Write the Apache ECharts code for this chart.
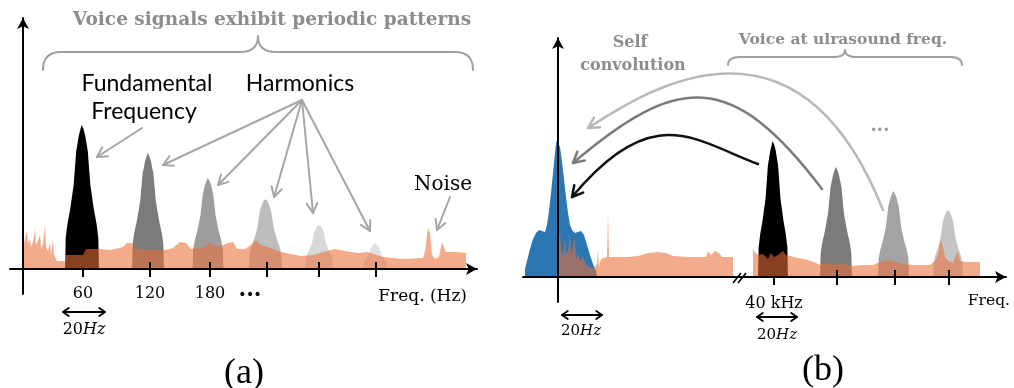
<!DOCTYPE html>
<html>
<head>
<meta charset="utf-8">
<script src="https://cdn.jsdelivr.net/npm/echarts@6/dist/echarts.min.js"></script>
<style>
html,body{margin:0;padding:0;background:#ffffff;}
#chart{width:1014px;height:388px;}
</style>
</head>
<body>
<div id="chart"></div>
<script>
// ================= DATA =================
// Outline of a spectral peak (read from the fundamental): [offset in half-widths, fraction of peak height]
const peakProfile = [[-1,0],[-0.99,0.03],[-0.96,0.215],[-0.86,0.31],[-0.69,0.42],[-0.49,0.585],[-0.34,0.82],[-0.18,0.93],[-0.08,0.975],[-0.03,1],
                     [0.03,1],[0.08,0.975],[0.18,0.93],[0.34,0.82],[0.49,0.585],[0.69,0.42],[0.86,0.31],[0.96,0.215],[0.99,0.03],[1,0]];

// Panel (a): voice spectrum  (x = sketch frequency position, y = amplitude)
const peakCentersA    = [59, 125, 185, 242.5, 296, 352];
const peakHeightsA    = [144, 116, 91, 71, 45, 26];
const peakHalfWidthsA = [17, 16, 15.5, 16.5, 14, 12];
const noiseA = [[1,0],[1,26],[3,28],[4,38],[5,26],[7,30],[8,22],[10,27],[12,40],[13,24],[15,22],[17,34],[18,20],[20,25],[22,44],[23,22],[25,18],[27,26],[28,14],[30,30],[31,14],[33,12],[34,8],[42,8],[42,14],[60,14],[63,20],[76,20],[88,19],[100,22],[104,26],[109,26],[112,20],[128,19],[142,19],[150,21],[157,27],[163,26],[168,20],[182,22],[186,26],[190,24],[196,22],[205,26],[210,27],[214,20],[222,20],[228,24],[233,29],[238,24],[245,22],[258,17],[268,15],[278,13],[290,14],[300,17],[312,20],[322,18],[335,16],[345,17],[360,12],[380,10],[400,11],[402,18],[405,41],[407,36],[409,14],[412,10],[416,12],[419,27],[421,22],[423,17],[432,17],[443,16],[443,0]];
const tickValuesA   = [60, 127, 187, 244, 296, 353];
const tickLabelPosA = [60, 127, 187, 227];
const tickLabelsA   = ['60', '120', '180', '\u00b7\u00b7\u00b7'];

// Panel (b): voice shifted to ultrasound + self convolution
const peakCentersB    = [215, 278, 335.5, 390];
const peakHeightsB    = [136, 110, 86, 68];
const peakHalfWidthsB = [15, 16, 15.5, 15];
const selfConvB = [[-33,0],[-33,8],[-31,16],[-28,28],[-25,38],[-22,44],[-19,47],[-16,46],[-13,45],[-11,52],[-9,66],[-7,84],[-5,104],[-3,124],[-2,134],[-1,137],[1,136],[2,130],[4,115],[6,98],[8,80],[10,64],[12,52],[14,47],[17,44],[20,45],[23,46],[26,42],[29,32],[32,22],[35,13],[38,6],[39,0]];
const noiseB = [[0,0],[0,30],[2,46],[3,28],[5,20],[7,38],[8,22],[10,26],[12,44],[13,22],[15,30],[17,40],[18,18],[20,24],[22,16],[25,20],[28,12],[32,10],[36,8],[39,14],[40,28],[41,10],[43,18],[44,20],[49,20],[50,64],[51,20],[55,20],[70,20],[80,21],[90,24],[100,25],[108,24],[115,21],[130,20],[148,20],[150,26],[153,22],[157,26],[161,24],[164,20],[175,20],[175,0]];
const noiseB2 = [[195,0],[195,28],[197,25],[200,22],[205,23],[210,18],[213,24],[216,20],[220,22],[225,26],[228,22],[232,21],[240,19],[250,17],[258,14],[262,12],[270,14],[278,12],[285,13],[294,11],[305,12],[315,12],[322,15],[330,17],[338,15],[345,13],[355,12],[372,12],[377,16],[380,22],[383,38],[385,30],[387,20],[390,16],[395,14],[398,22],[400,25],[402,16],[408,15],[422,15],[422,0]];
const tickValuesB   = [216, 279, 337, 391];
const tickLabelPosB = [216];
const tickLabelsB   = ['40 kHz'];

// ================= STYLES =================
const peakColorsA = ['#000000','#7b7b7b','#9d9d9d','#bdbdbd','#d8d8d8','#e0e0e0'];
const peakColorsB = ['#000000','#7b7b7b','#a3a3a3','#c4c4c4'];
const noiseColor = 'rgba(236,110,55,0.58)';
const blueColor = '#2a77b4';
const SERIF = 'DejaVu Serif';
const GRAYTXT = '#8c8c8c';

// ================= ANNOTATION LAYOUT (in each panel's data units) =================
const annotA = {
  braces: [{x1:20, x2:450, xTip:235, yEnd:199, yLine:217, yTip:233, r:18, color:'#a0a0a0', width:2}],
  texts: [
    {text:'Voice signals exhibit periodic patterns', at:[249,249], family:SERIF, size:18.5, weight:'bold', color:GRAYTXT},
    {text:'Fundamental', at:[124,185], family:'Lato', size:23, color:'#000'},
    {text:'Frequency', at:[121,157], family:'Lato', size:23, color:'#000'},
    {text:'Harmonics', at:[277,185], family:'Lato', size:23, color:'#000'},
    {text:'Noise', at:[420,84], family:SERIF, size:20, color:'#000'},
    {rich:true, at:[61,-61], size:16},
    {text:'(a)', at:[221,-105], family:'Liberation Serif', size:36, color:'#000'}
  ],
  arrows: [
    {from:[119,141], to:[74,112]},
    {from:[279,169], to:[140,104]},
    {from:[279,169], to:[195,84]},
    {from:[279,169], to:[251,72]},
    {from:[279,169], to:[290,56]},
    {from:[279,169], to:[347,38]},
    {from:[427,72], to:[414,39]}
  ],
  arrowColor:'#a6a6a6',
  doubles: [{from:[40,-43], to:[82,-43]}],
  innerTicks: tickValuesA.slice(1),
  curves: [], slashes: []
};
const annotB = {
  braces: [{x1:170, x2:404, xTip:287, yEnd:212, yLine:220, yTip:227, r:12, color:'#a0a0a0', width:2}],
  texts: [
    {text:'Self', at:[72,234], family:SERIF, size:16, weight:'bold', color:GRAYTXT},
    {text:'convolution', at:[75,211], family:SERIF, size:16, weight:'bold', color:GRAYTXT},
    {text:'Voice at ulrasound freq.', at:[285,237], family:SERIF, size:15.5, weight:'bold', color:GRAYTXT},
    {text:'\u00b7\u00b7\u00b7', at:[322,146], family:SERIF, size:18, weight:'bold', color:'#999'},
    {rich:true, at:[23,-54], size:15},
    {rich:true, at:[219,-58], size:15},
    {text:'(b)', at:[265,-94], family:'Liberation Serif', size:36, color:'#000'}
  ],
  arrows: [], arrowColor:'#a6a6a6',
  doubles: [{from:[4,-38], to:[44,-38]}, {from:[199,-40], to:[239,-40]}],
  innerTicks: tickValuesB.slice(1),
  curves: [
    {p:[[325,67],[236,291],[78,179],[30,149]], color:'#b8b8b8'},
    {p:[[264,88],[174,207],[120,203.5],[15,114]], color:'#7a7a7a'},
    {p:[[200,113],[138,136],[95,178],[14,80]], color:'#111111'}
  ],
  slashes: [[[175,-6],[183,4]], [[180,-6],[188,4]]]
};

// ================= HELPERS =================
function buildPeak(c, h, hw) { return peakProfile.map(([u, v]) => [c + u * hw, v * h]); }

function headPath(tip, from, len, ang) {
  const dx = tip[0] - from[0], dy = tip[1] - from[1];
  const d = Math.hypot(dx, dy) || 1;
  const bx = -dx / d, by = -dy / d;
  const c = Math.cos(ang), s = Math.sin(ang);
  const p1 = [tip[0] + len * (bx * c - by * s), tip[1] + len * (bx * s + by * c)];
  const p2 = [tip[0] + len * (bx * c + by * s), tip[1] + len * (-bx * s + by * c)];
  return 'M' + p1[0] + ',' + p1[1] + ' L' + tip[0] + ',' + tip[1] + ' L' + p2[0] + ',' + p2[1];
}

function makeRender(spec) {
  return function (params, api) {
    const P = p => api.coord(p);
    const ch = [];
    const stroke = (d, color, w) => ch.push({type:'path', shape:{pathData:d}, style:{stroke:color, lineWidth:w, fill:'none', lineCap:'round', lineJoin:'round'}});
    spec.braces.forEach(b => {
      const L = P([b.x1, b.yEnd]), R = P([b.x2, b.yEnd]), T = P([b.xTip, b.yTip]);
      const yl = P([b.x1, b.yLine])[1], r = b.r;
      const d = 'M' + L[0] + ',' + L[1] + ' Q' + L[0] + ',' + yl + ' ' + (L[0] + r) + ',' + yl +
        ' L' + (T[0] - r) + ',' + yl + ' Q' + T[0] + ',' + yl + ' ' + T[0] + ',' + T[1] +
        ' Q' + T[0] + ',' + yl + ' ' + (T[0] + r) + ',' + yl +
        ' L' + (R[0] - r) + ',' + yl + ' Q' + R[0] + ',' + yl + ' ' + R[0] + ',' + R[1];
      stroke(d, b.color, b.width);
    });
    spec.arrows.forEach(a => {
      const A = P(a.from), B = P(a.to);
      stroke('M' + A[0] + ',' + A[1] + ' L' + B[0] + ',' + B[1], spec.arrowColor, 2);
      stroke(headPath(B, A, 11, 0.5), spec.arrowColor, 2);
    });
    spec.curves.forEach(cv => {
      const [p0, c1, c2, p3] = cv.p.map(P);
      stroke('M' + p0[0] + ',' + p0[1] + ' C' + c1[0] + ',' + c1[1] + ' ' + c2[0] + ',' + c2[1] + ' ' + p3[0] + ',' + p3[1], cv.color, 2.5);
      stroke(headPath(p3, c2, 12, 0.5), cv.color, 2.5);
    });
    spec.doubles.forEach(a => {
      const A = P(a.from), B = P(a.to);
      stroke('M' + A[0] + ',' + A[1] + ' L' + B[0] + ',' + B[1], '#000', 1.8);
      stroke(headPath(B, A, 7, 0.6), '#000', 1.8);
      stroke(headPath(A, B, 7, 0.6), '#000', 1.8);
    });
    spec.innerTicks.forEach(t => {
      const A = P([t, 0]), B = P([t, 7]);
      ch.push({type:'line', shape:{x1:A[0], y1:A[1], x2:B[0], y2:B[1]}, style:{stroke:'#000', lineWidth:2}});
    });
    spec.slashes.forEach(s => {
      const A = P(s[0]), B = P(s[1]);
      ch.push({type:'line', shape:{x1:A[0], y1:A[1], x2:B[0], y2:B[1]}, style:{stroke:'#000', lineWidth:1.6}});
    });
    spec.texts.forEach(t => {
      const A = P(t.at);
      if (t.rich) {
        ch.push({type:'text', x:A[0], y:A[1], style:{
          text:'{n|20}{i|Hz}', align:'center', verticalAlign:'middle',
          rich:{n:{fontFamily:SERIF, fontSize:t.size, fill:'#000'},
                i:{fontFamily:SERIF, fontSize:t.size, fontStyle:'italic', fill:'#000'}}
        }});
      } else {
        ch.push({type:'text', x:A[0], y:A[1], style:{text:t.text, fontFamily:t.family, fontSize:t.size,
          fontWeight:t.weight || 'normal', fill:t.color, align:'center', verticalAlign:'middle'}});
      }
    });
    return {type:'group', children:ch};
  };
}

function area(name, xi, data, color, z) {
  return {type:'line', name, xAxisIndex:xi, yAxisIndex:xi, data, symbol:'none', showSymbol:false,
    lineStyle:{width:0}, areaStyle:{color, opacity:1}, z, silent:true, animation:false};
}

// ================= OPTION =================
const series = [];
peakCentersA.forEach((c, i) => series.push(area('a-peak' + i, 0, buildPeak(c, peakHeightsA[i], peakHalfWidthsA[i]), peakColorsA[i], 2)));
series.push(area('a-noise', 0, noiseA, noiseColor, 3));
series.push(area('b-self', 1, selfConvB, blueColor, 2));
peakCentersB.forEach((c, i) => series.push(area('b-peak' + i, 1, buildPeak(c, peakHeightsB[i], peakHalfWidthsB[i]), peakColorsB[i], 2)));
series.push(area('b-noise', 1, noiseB, noiseColor, 3));
series.push(area('b-noise2', 1, noiseB2, noiseColor, 3));
series.push({type:'custom', xAxisIndex:0, yAxisIndex:0, data:[[0,0]], renderItem:makeRender(annotA), z:5, silent:true, animation:false, clip:false});
series.push({type:'custom', xAxisIndex:1, yAxisIndex:1, data:[[0,0]], renderItem:makeRender(annotB), z:5, silent:true, animation:false, clip:false});

const axisLineStyle = {color:'#000', width:2};
function xAxisCfg(gi, min, max, ticks, labelPos, labels, name, nameSize, nameGap, namePad, labelMargin, labelSize) {
  return {gridIndex:gi, type:'value', min, max, z:10,
    axisLine:{show:true, onZero:true, symbol:['none','arrow'], symbolSize:[9,11], lineStyle:axisLineStyle},
    axisTick:{show:true, customValues:ticks, length:8, lineStyle:{color:'#000', width:2}},
    axisLabel:{show:true, customValues:labelPos, margin:labelMargin, color:'#000', fontFamily:'DejaVu Serif', fontSize:labelSize,
      formatter:(v) => { const k = labelPos.indexOf(v); if (k < 0) return ''; const s = labels[k]; return s.charAt(0) === '\u00b7' ? '{d|' + s + '}' : s; },
      rich:{d:{fontFamily:'DejaVu Serif', fontSize:22, fontWeight:'bold', color:'#000', padding:[0,0,6,0]}}},
    splitLine:{show:false},
    name, nameLocation:'end', nameGap,
    nameTextStyle:{color:'#000', fontFamily:'DejaVu Serif', fontSize:nameSize, align:'right', verticalAlign:'top', padding:[namePad,0,0,0]}
  };
}
function yAxisCfg(gi, min, max) {
  return {gridIndex:gi, type:'value', min, max, z:10,
    axisLine:{show:true, onZero:true, symbol:['none','arrow'], symbolSize:[9,11], lineStyle:axisLineStyle},
    axisTick:{show:false}, axisLabel:{show:false}, splitLine:{show:false}};
}

const option = {
  animation:false,
  backgroundColor:'#ffffff',
  grid:[
    {left:10, top:18, width:467, height:276, outerBoundsMode:'none', containLabel:false},
    {left:523, top:38, width:483, height:264, outerBoundsMode:'none', containLabel:false}
  ],
  xAxis:[
    xAxisCfg(0, -13, 454, tickValuesA, tickLabelPosA, tickLabelsA, 'Freq. (Hz)', 17, -10, 19, -8.5, 16),
    xAxisCfg(1, -35, 448, tickValuesB, tickLabelPosB, tickLabelsB, 'Freq.', 15.5, 4, 16, -6, 16)
  ],
  yAxis:[yAxisCfg(0, -25, 251), yAxisCfg(1, -25, 239)],
  series
};

const chart = echarts.init(document.getElementById('chart'), null, {renderer:'canvas', width:1014, height:388});
chart.setOption(option);
</script>
</body>
</html>
